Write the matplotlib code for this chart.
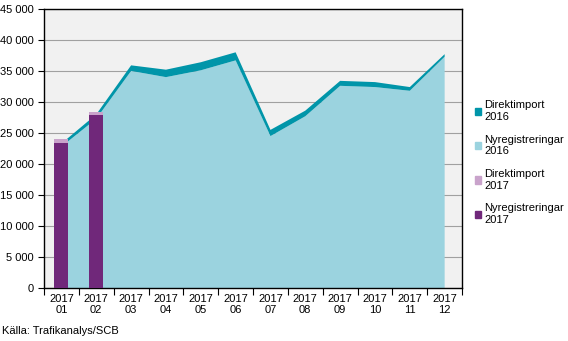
import matplotlib
matplotlib.use("Agg")
import matplotlib.pyplot as plt
from matplotlib.patches import Patch
import numpy as np

plt.rcParams['font.family'] = ['Liberation Sans', 'DejaVu Sans']
plt.rcParams['font.size'] = 8

# månader
months = ["2017\n01", "2017\n02", "2017\n03", "2017\n04", "2017\n05", "2017\n06",
          "2017\n07", "2017\n08", "2017\n09", "2017\n10", "2017\n11", "2017\n12"]
# 2016 (ytor)
nyreg_2016 = [22800, 27300, 35000, 34000, 35100, 36700, 24500, 27700, 32600, 32400, 31800, 37300]
direkt_2016 = [500, 700, 900, 1200, 1300, 1300, 1000, 900, 800, 800, 600, 400]
# 2017 (staplar)
nyreg_2017 = [23400, 27900]
direkt_2017 = [600, 500]

c_direkt16 = "#0095a9"
c_nyreg16 = "#9bd3df"
c_direkt17 = "#c9a3cb"
c_nyreg17 = "#70287a"

fig = plt.figure(figsize=(5.68, 3.41), dpi=100)
ax = fig.add_axes([0.0775, 0.155, 0.736, 0.819])
ax.set_facecolor("#f1f1f1")

x = np.arange(len(months))
ax.stackplot(x, nyreg_2016, direkt_2016, colors=[c_nyreg16, c_direkt16], zorder=2, linewidth=0)

xb = np.arange(len(nyreg_2017))
ax.bar(xb, nyreg_2017, width=0.4, color=c_nyreg17, zorder=3)
ax.bar(xb, direkt_2017, width=0.4, bottom=nyreg_2017, color=c_direkt17, zorder=3)

ax.set_xlim(-0.5, len(months) - 0.5)
ax.set_ylim(0, 45000)
yt = np.arange(0, 45001, 5000)
ax.set_yticks(yt)
ax.set_yticklabels([f"{v:,}".replace(",", " ") for v in yt])
ax.yaxis.grid(True, color="#a0a0a0", linewidth=0.8, zorder=1)
ax.set_axisbelow(True)

ax.set_xticks(np.arange(-0.5, len(months), 1.0))
ax.set_xticklabels([])
ax.set_xticks(x, minor=True)
ax.set_xticklabels(months, minor=True, linespacing=1.1)
ax.tick_params(axis="x", which="minor", length=0, pad=4)
ax.tick_params(axis="x", which="major", length=5, direction="out")
ax.tick_params(axis="y", length=4, direction="out")
for s in ax.spines.values():
    s.set_color("black")
    s.set_linewidth(1.0)

handles = [Patch(color=c_direkt16), Patch(color=c_nyreg16),
           Patch(color=c_direkt17), Patch(color=c_nyreg17)]
labels = ["Direktimport\n2016", "Nyregistreringar\n2016", "Direktimport\n2017", "Nyregistreringar\n2017"]
fig.legend(handles, labels, loc="upper left", bbox_to_anchor=(0.818, 0.735), frameon=False,
           handlelength=0.6, handleheight=0.6, handletextpad=0.3, labelspacing=1.15)

fig.text(0.004, 0.02, "Källa: Trafikanalys/SCB")

fig.savefig("out.png", dpi=100)
